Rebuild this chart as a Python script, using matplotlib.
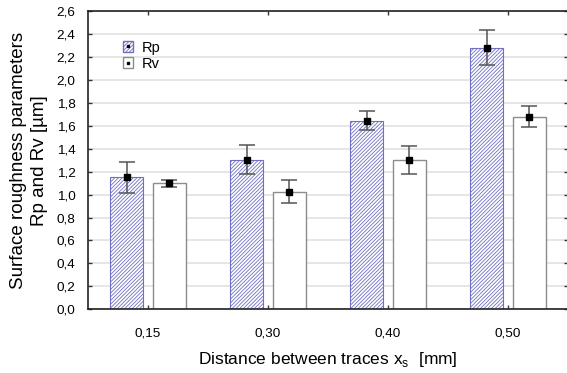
import numpy as np
import matplotlib
matplotlib.use("Agg")
import matplotlib.pyplot as plt
from matplotlib.patches import Patch
from matplotlib.lines import Line2D
from matplotlib.ticker import FuncFormatter, MultipleLocator

plt.rcParams.update({
    "font.family": ["Liberation Sans", "DejaVu Sans"],
    "font.size": 9.7,
    "hatch.linewidth": 0.6,
    "hatch.color": "#8a8ac8",
})

# data
categories = ["0,15", "0,30", "0,40", "0,50"]
rp_mean = [1.15, 1.30, 1.645, 2.278]
rv_mean = [1.10, 1.025, 1.30, 1.675]
rp_low = [1.01, 1.18, 1.56, 2.125]
rp_high = [1.28, 1.43, 1.73, 2.435]
rv_low = [1.07, 0.93, 1.175, 1.585]
rv_high = [1.13, 1.125, 1.425, 1.77]

x = np.arange(len(categories))
width = 0.28
off = 0.178

fig = plt.figure(figsize=(5.67, 3.73), dpi=100)
ax = fig.add_axes([0.1552, 0.1708, 0.8466, 0.7997])
ax.set_axisbelow(True)

ax.bar(x - off, rp_mean, width, color="white", edgecolor="#6f6fc4",
       hatch="/////////", linewidth=0.8, zorder=2)
ax.bar(x + off, rv_mean, width, color="white", edgecolor="#8c8c8c",
       linewidth=1.0, zorder=2)

err_kw = dict(fmt="s", color="black", ms=4, ecolor="#555555", elinewidth=1.1,
              capsize=6, capthick=1.1, zorder=3)
rp_err = [np.array(rp_mean) - np.array(rp_low), np.array(rp_high) - np.array(rp_mean)]
rv_err = [np.array(rv_mean) - np.array(rv_low), np.array(rv_high) - np.array(rv_mean)]
ax.errorbar(x - off, rp_mean, yerr=rp_err, **err_kw)
ax.errorbar(x + off, rv_mean, yerr=rv_err, **err_kw)

ax.set_xlim(-0.5, 3.5)
ax.set_ylim(0, 2.6)
ax.set_xticks(x)
ax.set_xticklabels(categories)
ax.yaxis.set_major_locator(MultipleLocator(0.2))
ax.yaxis.set_major_formatter(FuncFormatter(lambda v, p: f"{v:.1f}".replace(".", ",")))
ax.tick_params(direction="in", top=True, right=True, length=3, width=1.0, color="#333333")
ax.tick_params(axis="x", pad=13)
ax.tick_params(axis="y", pad=9)
ax.grid(axis="y", color="#e2e2e2", linewidth=1.2)

for s in ax.spines.values():
    s.set_linewidth(1.2)
    s.set_color("#222222")

ax.set_ylabel("Surface roughness parameters\nRp and Rv [µm]", fontsize=13.5, labelpad=6,
              linespacing=1.3)
ax.set_xlabel(r"Distance between traces x$_\mathregular{s}$  [mm]", fontsize=12.5, labelpad=8)

dot = Line2D([], [], marker="s", color="black", ms=2, linestyle="none")
h_rp = (Patch(facecolor="white", edgecolor="#6f6fc4", hatch="/////////"), dot)
h_rv = (Patch(facecolor="white", edgecolor="#8c8c8c"), dot)
ax.legend([h_rp, h_rv], ["Rp", "Rv"], loc="upper left", bbox_to_anchor=(0.06, 0.92),
          frameon=False, fontsize=10.5, handlelength=0.7, handleheight=0.8,
          handletextpad=0.6, labelspacing=0.15, borderaxespad=0)

fig.savefig("out.png", dpi=100)
